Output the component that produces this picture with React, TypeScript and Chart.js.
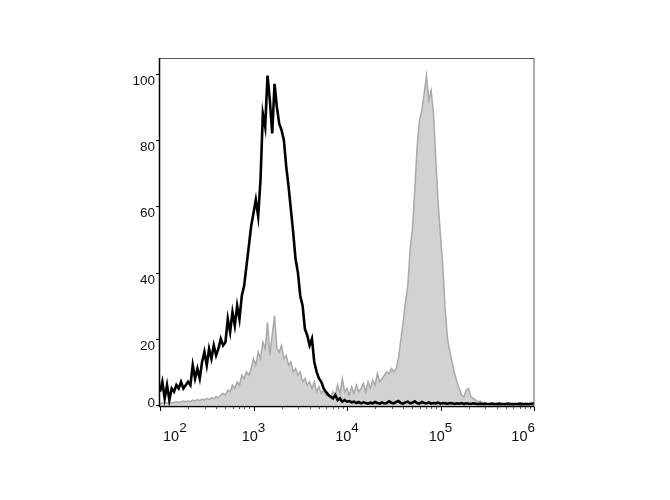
import { useEffect, useRef } from "react";
import { Chart, registerables } from "chart.js";

Chart.register(...registerables);

// histogram bin centres, as log10 of the fluorescence channel
const binLog10 = [
  2.000, 2.025, 2.050, 2.075, 2.100, 2.125, 2.150, 2.175,
  2.200, 2.225, 2.250, 2.275, 2.300, 2.325, 2.350, 2.375,
  2.400, 2.425, 2.450, 2.475, 2.500, 2.525, 2.550, 2.575,
  2.600, 2.625, 2.650, 2.675, 2.700, 2.725, 2.750, 2.775,
  2.800, 2.825, 2.850, 2.875, 2.900, 2.925, 2.950, 2.975,
  3.000, 3.025, 3.050, 3.075, 3.100, 3.125, 3.150, 3.175,
  3.200, 3.225, 3.250, 3.275, 3.300, 3.325, 3.350, 3.375,
  3.400, 3.425, 3.450, 3.475, 3.500, 3.525, 3.550, 3.575,
  3.600, 3.625, 3.650, 3.675, 3.700, 3.725, 3.750, 3.775,
  3.800, 3.825, 3.850, 3.875, 3.900, 3.925, 3.950, 3.975,
  4.000, 4.025, 4.050, 4.075, 4.100, 4.125, 4.150, 4.175,
  4.200, 4.225, 4.250, 4.275, 4.300, 4.325, 4.350, 4.375,
  4.400, 4.425, 4.450, 4.475, 4.500, 4.525, 4.550, 4.575,
  4.600, 4.625, 4.650, 4.675, 4.700, 4.725, 4.750, 4.775,
  4.800, 4.825, 4.850, 4.875, 4.900, 4.925, 4.950, 4.975,
  5.000, 5.025, 5.050, 5.075, 5.100, 5.125, 5.150, 5.175,
  5.200, 5.225, 5.250, 5.275, 5.300, 5.325, 5.350, 5.375,
  5.400, 5.425, 5.450, 5.475, 5.500, 5.525, 5.550, 5.575,
  5.600, 5.625, 5.650, 5.675, 5.700, 5.725, 5.750, 5.775,
  5.800, 5.825, 5.850, 5.875, 5.900, 5.925, 5.950, 5.975,
  6.000,
];

// black outline histogram (% of max)
const blackCounts = [
  4, 7, 2, 6, 1.5, 5, 4, 6, 5, 7,
  5, 6, 7, 6, 12, 8, 11, 8, 13, 16,
  12, 17, 14, 18, 15, 17, 20, 18, 19, 26,
  22, 28, 24, 30, 26, 33, 36, 42, 48, 54,
  58, 62, 57, 68, 88, 84, 99.5, 92, 82, 97,
  90, 85, 83, 80, 72, 66, 59, 52, 44, 40,
  33, 30, 23, 21, 18, 20, 13, 10, 8, 7,
  5, 4, 3, 2.5, 2, 3, 1.5, 2, 1, 1.5, 1,
  1.2, 0.8, 1.0, 0.6, 0.9, 0.5, 0.8, 0.6, 0.4, 0.7,
  0.5, 0.9, 0.6, 0.4, 0.8, 0.5, 0.6, 1.1, 0.7, 0.5,
  0.9, 1.2, 0.6, 0.4, 0.8, 1.0, 0.5, 0.7, 1.1, 0.6,
  0.4, 0.9, 0.6, 0.5, 0.8, 0.4, 0.6, 0.5, 0.7, 0.4,
  0.6, 0.5, 0.4, 0.6, 0.5, 0.3, 0.5, 0.4, 0.6, 0.3,
  0.5, 0.4, 0.3, 0.5, 0.4, 0.3, 0.4, 0.3, 0.4, 0.3,
  0.3, 0.4, 0.3, 0.3, 0.4, 0.3, 0.3, 0.3, 0.4, 0.3,
  0.3, 0.3, 0.3, 0.4, 0.3, 0.3, 0.3, 0.3, 0.4, 0.5,
];

// grey filled histogram (% of max)
const greyCounts = [
  0.5, 0.5, 0.8, 0.5, 0.8, 0.6, 0.8, 1.0, 0.8, 1.0,
  1.2, 1.0, 1.2, 1.0, 1.5, 1.2, 1.6, 1.3, 1.8, 1.5,
  2.0, 1.6, 2.2, 1.8, 2.5, 2.2, 3.0, 3.5, 3, 4.5,
  4, 6, 5, 7, 6, 9, 8, 10, 9, 11,
  14, 12, 16, 14, 19, 17, 25, 15, 21, 27,
  17, 16, 18, 14, 15, 12, 13, 10, 11, 9,
  10, 7, 8, 6, 7, 5, 7, 4, 5.5, 3.5,
  4.5, 3, 3.5, 2.5, 4, 3, 6, 3.5, 8, 4,
  5, 3, 5.5, 3.5, 6, 4, 5, 6.5, 4, 7,
  5, 7.5, 6, 9.5, 7, 8, 9, 10, 9.5, 11,
  10, 11, 14, 19.5, 25, 31, 36, 47, 53, 65,
  78, 86, 89, 94, 99.5, 92, 95, 88, 74, 61,
  51, 42, 29, 20, 16, 13, 9.5, 7, 5, 3,
  2.5, 4.5, 5, 2.5, 2, 1.5, 1, 1.2, 0.6, 0.5,
  0.3, 0.2, 0.2, 0.1, 0.1, 0.1, 0, 0, 0, 0,
  0, 0, 0, 0, 0, 0, 0, 0, 0, 0, 0,
];

const xTickExponents = [2, 3, 4, 5, 6];
const xTickBase = "10";
const yTickValues = [0, 20, 40, 60, 80, 100];
const yTickLabels = ["0", "20", "40", "60", "80", "100"];

const FONT = '"Liberation Sans", Arial, sans-serif';

const toPoints = (vals: number[]) =>
  vals.map((v, i) => ({ x: Math.pow(10, binLog10[i]), y: v }));

const axesPlugin = {
  id: "flowAxes",
  afterDraw(chart: any) {
    const { ctx, chartArea, scales } = chart;
    const { left, right, top, bottom } = chartArea;
    const xs = scales.x;
    const ys = scales.y;
    ctx.save();

    // frame
    ctx.strokeStyle = "#5a5a5a";
    ctx.lineWidth = 1;
    ctx.strokeRect(left - 0.5, top + 0.5, right - left + 0.5, bottom - top);
    ctx.strokeStyle = "#000";
    ctx.lineWidth = 1.5;
    ctx.beginPath();
    ctx.moveTo(left - 0.5, top);
    ctx.lineTo(left - 0.5, bottom + 0.5);
    ctx.lineTo(right, bottom + 0.5);
    ctx.stroke();

    // y ticks & labels
    ctx.lineWidth = 1;
    ctx.fillStyle = "#111";
    ctx.font = `13.5px ${FONT}`;
    ctx.textAlign = "right";
    ctx.textBaseline = "alphabetic";
    yTickValues.forEach((v, i) => {
      const py = ys.getPixelForValue(v);
      ctx.beginPath();
      ctx.moveTo(left - 4, Math.round(py) + 0.5);
      ctx.lineTo(left, Math.round(py) + 0.5);
      ctx.stroke();
      const base = v === 0 ? py + 2 : py + 11;
      ctx.fillText(yTickLabels[i], left - 5, base);
    });

    // x minor ticks
    ctx.strokeStyle = "#555";
    for (let e = 2; e < 6; e++) {
      for (let m = 2; m <= 9; m++) {
        const px = xs.getPixelForValue(m * Math.pow(10, e));
        ctx.beginPath();
        ctx.moveTo(Math.round(px) + 0.5, bottom + 1);
        ctx.lineTo(Math.round(px) + 0.5, bottom + 3);
        ctx.stroke();
      }
    }

    // x major ticks & labels
    ctx.strokeStyle = "#000";
    ctx.textAlign = "left";
    xTickExponents.forEach((e) => {
      const px = xs.getPixelForValue(Math.pow(10, e));
      ctx.beginPath();
      ctx.moveTo(Math.round(px) + 0.5, bottom + 1);
      ctx.lineTo(Math.round(px) + 0.5, bottom + 5);
      ctx.stroke();
      ctx.font = `14.5px ${FONT}`;
      const w1 = ctx.measureText(xTickBase).width;
      ctx.font = `13.5px ${FONT}`;
      const exp = String(e);
      const w2 = ctx.measureText(exp).width;
      const total = w1 + w2;
      let sx = px - total / 2;
      if (sx < left + 3) sx = left + 3;
      if (sx + total > right + 1) sx = right + 1 - total;
      ctx.font = `14.5px ${FONT}`;
      ctx.fillText(xTickBase, sx, 441);
      ctx.font = `13.5px ${FONT}`;
      ctx.fillText(exp, sx + w1, 432);
    });

    ctx.restore();
  },
};

export default function App() {
  const canvasRef = useRef<HTMLCanvasElement | null>(null);

  useEffect(() => {
    if (!canvasRef.current) return;
    const chart = new Chart(canvasRef.current, {
      type: "line",
      data: {
        datasets: [
          {
            label: "black",
            data: toPoints(blackCounts),
            borderColor: "#000",
            borderWidth: 2.6,
            pointRadius: 0,
            fill: false,
            tension: 0,
            order: 0,
          },
          {
            label: "grey",
            data: toPoints(greyCounts),
            borderColor: "#a9a9a9",
            backgroundColor: "#d2d2d2",
            borderWidth: 1.5,
            pointRadius: 0,
            fill: "origin",
            tension: 0,
            order: 1,
          },
        ],
      },
      options: {
        responsive: false,
        animation: false,
        devicePixelRatio: 1,
        layout: { padding: { left: 160, right: 136, top: 58, bottom: 94 } },
        plugins: { legend: { display: false }, tooltip: { enabled: false } },
        scales: {
          x: { type: "logarithmic", min: 100, max: 1000000, display: false },
          y: { type: "linear", min: -0.3, max: 104.8, display: false },
        },
      },
      plugins: [axesPlugin],
    });
    return () => chart.destroy();
  }, []);

  return (
    <div style={{ position: "absolute", left: 0, top: 0, width: 670, height: 500, background: "#fff" }}>
      <canvas ref={canvasRef} width={670} height={500} style={{ display: "block" }} />
    </div>
  );
}
